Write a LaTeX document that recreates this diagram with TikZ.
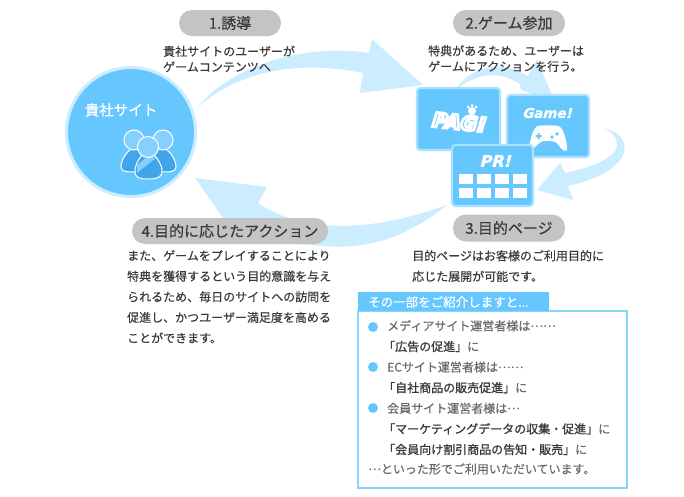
\documentclass[tikz,border=0pt]{standalone}
\usepackage{fontspec}
\setmainfont{Noto Sans CJK JP}[FakeBold=0.35]
\newfontfamily\strongfont{Noto Sans CJK JP}[FakeBold=1.1]
\newfontfamily\logofont{DejaVu Sans Bold}[FakeBold=14,FakeSlant=0.2]
\newfontfamily\cardfont{DejaVu Sans Bold}[FakeBold=1.5,FakeSlant=0.25]
\definecolor{skyfill}{HTML}{66C7FF}
\definecolor{skyedge}{HTML}{A8E2FF}
\definecolor{bandblue}{HTML}{CBEDFF}
\definecolor{pillgray}{HTML}{C4C4C4}
\definecolor{bodyink}{HTML}{3A3A3A}
\definecolor{softink}{HTML}{6A6A6A}
\definecolor{boxedge}{HTML}{85D6FA}
\definecolor{personblue}{HTML}{3FA6EC}
\definecolor{personlight}{HTML}{85D0FC}
\newcommand{\strongpart}[1]{\hspace*{-4pt}{\strongfont\color{bodyink}#1}}
\newcommand{\midellipsis}[1]{\raisebox{3.6pt}{#1}}
\tikzset{
  x=1pt,y=-1pt,
  pill/.style={fill=pillgray,rounded corners=13pt,draw=none,inner sep=0,text=bodyink,font=\fontsize{15}{16}\selectfont},
  bodytext/.style={anchor=north west,inner sep=0,align=left,text=bodyink,font=\fontsize{12}{20.6}\selectfont},
  bandarrow/.style={fill=bandblue,draw=none},
  card/.style={fill=skyfill,draw=skyedge,line width=2.2pt,rounded corners=3.5pt},
  cell/.style={fill=white,draw=none},
  bulletdot/.style={circle,fill=skyfill,minimum size=10pt,inner sep=0},
  person/.style={fill=personblue,draw=white,line width=1pt},
  personhead/.style={fill=personlight,draw=white,line width=1pt},
  cardtitle/.style={text=white,inner sep=0}
}
\begin{document}
\begin{tikzpicture}
\useasboundingbox (0,0) rectangle (684,496);
\fill[white] (0,0) rectangle (684,496);
% block arrows
\fill[bandarrow] (198,107) .. controls (225,72) and (295,42) .. (369,53) -- (372,39) -- (423,85) -- (360,93) -- (363,73) .. controls (300,60) and (240,70) .. cycle;
\fill[bandarrow] (455,90) .. controls (475,62) and (505,62) .. (528,76) -- (537,60) -- (555,102) -- (521,90) -- (520,84) .. controls (500,71) and (478,72) .. cycle;
\fill[bandarrow] (605,128) .. controls (638,138) and (632,172) .. (568,186) -- (573,200) -- (537,190) -- (560,163) -- (565,173) .. controls (605,165) and (635,148) .. cycle;
\fill[bandarrow] (447,205) .. controls (410,235) and (370,250) .. (325,246) .. controls (290,244) and (260,240) .. (233,232) -- (195,178) -- (267,187) -- (258,203) .. controls (290,225) and (350,240) .. cycle;
% site circle
\node[circle,fill=skyfill,draw=bandblue,line width=3pt,minimum size=129pt,inner sep=0] (site) at (131,132) {};
\node[text=white,inner sep=0,font=\fontsize{14.5}{16}\strongfont] (sitelabel) at (121,110) {貴社サイト};
% people
\path[person] (163,148) .. controls (170,150) and (176,160) .. (176,167) .. controls (176,172) and (170,172) .. (160,172) -- (150,172) -- (150,148) -- cycle;
\path[personhead] (163,140) circle[radius=10];
\path[person] (134,148) .. controls (127,150) and (121,160) .. (121,167) .. controls (121,172) and (127,172) .. (137,172) -- (148,172) -- (148,148) -- cycle;
\path[personhead] (134,140) circle[radius=10];
\path[person] (148,152) .. controls (141,153) and (135,164) .. (135,171) .. controls (135,178) and (140,179) .. (148,179) .. controls (156,179) and (162,178) .. (162,171) .. controls (162,164) and (155,153) .. cycle;
\fill[personlight] (137,165) -- (148,156) -- (156,158) -- (137,173) -- cycle;
\path[personhead] (148,147) circle[radius=10.5];
% cards
\path[card] (417,88) rectangle (500,150);
\node[inner sep=0,rotate=-6,font=\fontsize{20}{22}\selectfont] (pag) at (458,122) {\special{pdf:bc [0.4 0.78 1] [1 1 1]}\logofont PAG!\special{pdf:ec}};
\fill[white] (472,111) circle[radius=4] (468,107) circle[radius=1.5] (472,105.5) circle[radius=1.5] (476,107) circle[radius=1.5];
\path[card] (507,95) rectangle (589,157);
\node[cardtitle,font=\fontsize{13.5}{14}\cardfont] (gametitle) at (547,113) {Game!};
% game controller
\fill[white] (538,126) .. controls (543,125) and (553,125) .. (558,126) .. controls (564,127) and (567,143) .. (567,149) .. controls (567,152) and (563,151) .. (560,147) .. controls (557,143) and (555,141) .. (552,141) -- (544,141) .. controls (541,141) and (538,144) .. (535,147) .. controls (532,151) and (529,151) .. (529,148) .. controls (530,141) and (533,127) .. (538,126) -- cycle;
\fill[skyfill] (535.5,135) rectangle (541.5,137) (537.5,133) rectangle (539.5,139);
\fill[skyfill] (552,137) circle[radius=1.8] (557,134) circle[radius=1.8];
\path[card] (452,145) rectangle (533,206);
\node[cardtitle,font=\fontsize{16}{18}\cardfont] (prtitle) at (495,161) {PR!};
\foreach \cx in {459,477,495,513}{
  \foreach \cy in {174,188}{
    \path[cell] (\cx,\cy) rectangle ++(14,10);
  }
}
% pills
\node[pill,minimum width=102pt,minimum height=26pt] (p1) at (230,23) {1.誘導};
\node[pill,minimum width=112pt,minimum height=26pt] (p2) at (509,23) {2.ゲーム参加};
\node[pill,minimum width=112pt,minimum height=27pt] (p3) at (509,228) {3.目的ページ};
\node[pill,minimum width=196pt,minimum height=26pt] (p4) at (230,231) {4.目的に応じたアクション};
% body texts
\node[bodytext,font=\fontsize{12}{15.6}\selectfont] (t1) at (163,45.5) {貴社サイトのユーザーが\\ゲームコンテンツへ};
\node[bodytext,font=\fontsize{12}{15.6}\selectfont] (t2) at (428,45) {特典があるため、ユーザーは\\ゲームにアクションを行う。};
\node[bodytext] (t3) at (412,250) {目的ページはお客様のご利用目的に\\応じた展開が可能です。};
\node[bodytext] (t4) at (127,250) {また、ゲームをプレイすることにより\\特典を獲得するという目的意識を与え\\られるため、毎日のサイトへの訪問を\\促進し、かつユーザー満足度を高める\\ことができます。};
% info box
\path[fill=white,draw=boxedge,line width=1.2pt] (358,311) rectangle (627,488);
\fill[skyfill] (358,292) rectangle (549,311);
\node[anchor=west,inner sep=0,text=white,font=\fontsize{12.5}{14}\selectfont] (boxhead) at (368,302) {その一部をご紹介しますと...};
\node[bulletdot] (b1) at (373,327) {};
\node[bulletdot] (b2) at (373,367) {};
\node[bulletdot] (b3) at (373,408) {};
\node[bodytext,text=softink] (boxlines) at (387,320) {メディアサイト運営者様は\midellipsis{⋯⋯}\\\strongpart{「広告の促進」}に\\ECサイト運営者様は\midellipsis{⋯⋯}\\\strongpart{「自社商品の販売促進」}に\\会員サイト運営者様は\midellipsis{⋯}\\\strongpart{「マーケティングデータの収集・促進」}に\\\strongpart{「会員向け割引商品の告知・販売」}に};
\node[bodytext,text=softink,anchor=west] (boxlast) at (368,469) {\midellipsis{⋯}といった形でご利用いただいています。};
\end{tikzpicture}
\end{document}
